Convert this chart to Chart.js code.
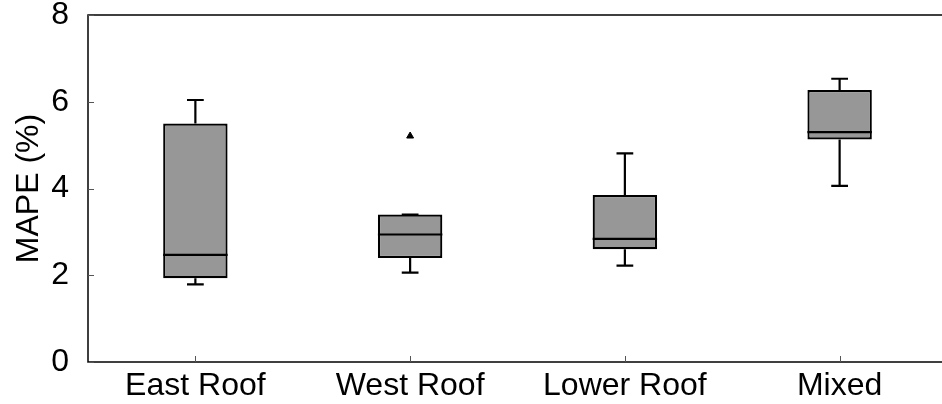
<!DOCTYPE html>
<html lang="en">
<head>
    <meta charset="UTF-8">
    <title>MAPE box plot</title>
    <script src="https://cdn.jsdelivr.net/npm/chart.js@4.4.0/dist/chart.umd.min.js"></script>
    <style>
        body {
            margin: 0;
            background-color: white;
            overflow: hidden;
        }
        .wrap {
            width: 952px;
            height: 404px;
        }
    </style>
</head>
<body>

<div class="wrap"><canvas id="boxChart"></canvas></div>

<script>
    // categories and box statistics
    const categories = ["East Roof", "West Roof", "Lower Roof", "Mixed"];
    const whiskerLow = [1.79, 2.06, 2.22, 4.06];
    const q1 = [1.93, 2.40, 2.60, 5.13];
    const median = [2.47, 2.94, 2.84, 5.30];
    const q3 = [5.50, 3.40, 3.85, 6.27];
    const whiskerHigh = [6.04, 3.40, 4.81, 6.53];
    const outliers = [null, 5.21, null, null];
    const yTicks = [0, 2, 4, 6, 8];

    const FONT = "'Liberation Sans', Arial, sans-serif";

    // whiskers, caps, medians, frame and inward ticks, all placed through the scales
    const boxExtras = {
        id: 'boxExtras',
        beforeDatasetsDraw(chart) {
            const ctx = chart.ctx;
            const y = chart.scales.y;
            const bars = chart.getDatasetMeta(0).data;
            ctx.save();
            ctx.strokeStyle = '#000';
            ctx.lineWidth = 2.2;
            bars.forEach((bar, i) => {
                const cap = bar.width * 0.13;
                const lo = y.getPixelForValue(whiskerLow[i]);
                const hi = y.getPixelForValue(whiskerHigh[i]);
                ctx.beginPath();
                ctx.moveTo(bar.x, lo);
                ctx.lineTo(bar.x, y.getPixelForValue(q1[i]));
                ctx.moveTo(bar.x, y.getPixelForValue(q3[i]));
                ctx.lineTo(bar.x, hi);
                ctx.moveTo(bar.x - cap, lo);
                ctx.lineTo(bar.x + cap, lo);
                ctx.moveTo(bar.x - cap, hi);
                ctx.lineTo(bar.x + cap, hi);
                ctx.stroke();
            });
            ctx.restore();
        },
        afterDatasetsDraw(chart) {
            const ctx = chart.ctx;
            const y = chart.scales.y;
            const x = chart.scales.x;
            const area = chart.chartArea;
            const bars = chart.getDatasetMeta(0).data;
            ctx.save();
            ctx.strokeStyle = '#000';
            ctx.lineWidth = 2.2;
            bars.forEach((bar, i) => {
                const m = y.getPixelForValue(median[i]);
                ctx.beginPath();
                ctx.moveTo(bar.x - bar.width / 2, m);
                ctx.lineTo(bar.x + bar.width / 2, m);
                ctx.stroke();
            });
            // frame
            ctx.lineWidth = 1.5;
            ctx.strokeRect(area.left, area.top, area.right - area.left, area.bottom - area.top);
            // inward ticks
            ctx.lineWidth = 1;
            ctx.strokeStyle = '#555';
            ctx.beginPath();
            yTicks.forEach(v => {
                const py = Math.round(y.getPixelForValue(v)) + 0.5;
                ctx.moveTo(area.left, py);
                ctx.lineTo(area.left + 6, py);
            });
            categories.forEach((c, i) => {
                const px = Math.round(x.getPixelForValue(i)) + 0.5;
                ctx.moveTo(px, area.bottom);
                ctx.lineTo(px, area.bottom - 6);
            });
            ctx.stroke();
            ctx.restore();
        }
    };

    new Chart(document.getElementById('boxChart'), {
        type: 'bar',
        data: {
            labels: categories,
            datasets: [
                {
                    type: 'bar',
                    label: 'IQR',
                    data: categories.map((c, i) => [q1[i], q3[i]]),
                    backgroundColor: '#979797',
                    borderColor: '#000',
                    borderWidth: 2.2,
                    borderSkipped: false,
                    barPercentage: 0.3,
                    categoryPercentage: 1.0
                },
                {
                    type: 'line',
                    label: 'Outliers',
                    data: outliers,
                    showLine: false,
                    pointStyle: 'triangle',
                    pointRadius: 4,
                    backgroundColor: '#000',
                    borderColor: '#000',
                    borderWidth: 1
                }
            ]
        },
        options: {
            responsive: true,
            maintainAspectRatio: false,
            animation: false,
            layout: { padding: { top: 15, left: 0, right: 0, bottom: 0 } },
            plugins: {
                legend: { display: false },
                tooltip: { enabled: false }
            },
            scales: {
                x: {
                    grid: { display: false, drawTicks: false },
                    border: { display: false },
                    ticks: {
                        color: '#000',
                        padding: 5,
                        maxRotation: 0,
                        font: { family: FONT, size: 32 }
                    },
                    afterFit(scale) {
                        scale.height = 42;
                        scale.paddingLeft = 0;
                        scale.paddingRight = 0;
                    }
                },
                y: {
                    min: 0,
                    max: 8,
                    grid: { display: false, drawTicks: false },
                    border: { display: false },
                    afterBuildTicks(scale) { scale.ticks = yTicks.map(v => ({ value: v })); },
                    ticks: {
                        color: '#000',
                        padding: 19,
                        font: { family: FONT, size: 32 }
                    },
                    title: {
                        display: true,
                        text: 'MAPE (%)',
                        color: '#000',
                        padding: { top: 10, bottom: 0 },
                        font: { family: FONT, size: 32 }
                    },
                    afterFit(scale) {
                        scale.width = 88;
                        scale.paddingTop = 0;
                        scale.paddingBottom = 0;
                    }
                }
            }
        },
        plugins: [boxExtras]
    });
</script>

</body>
</html>
